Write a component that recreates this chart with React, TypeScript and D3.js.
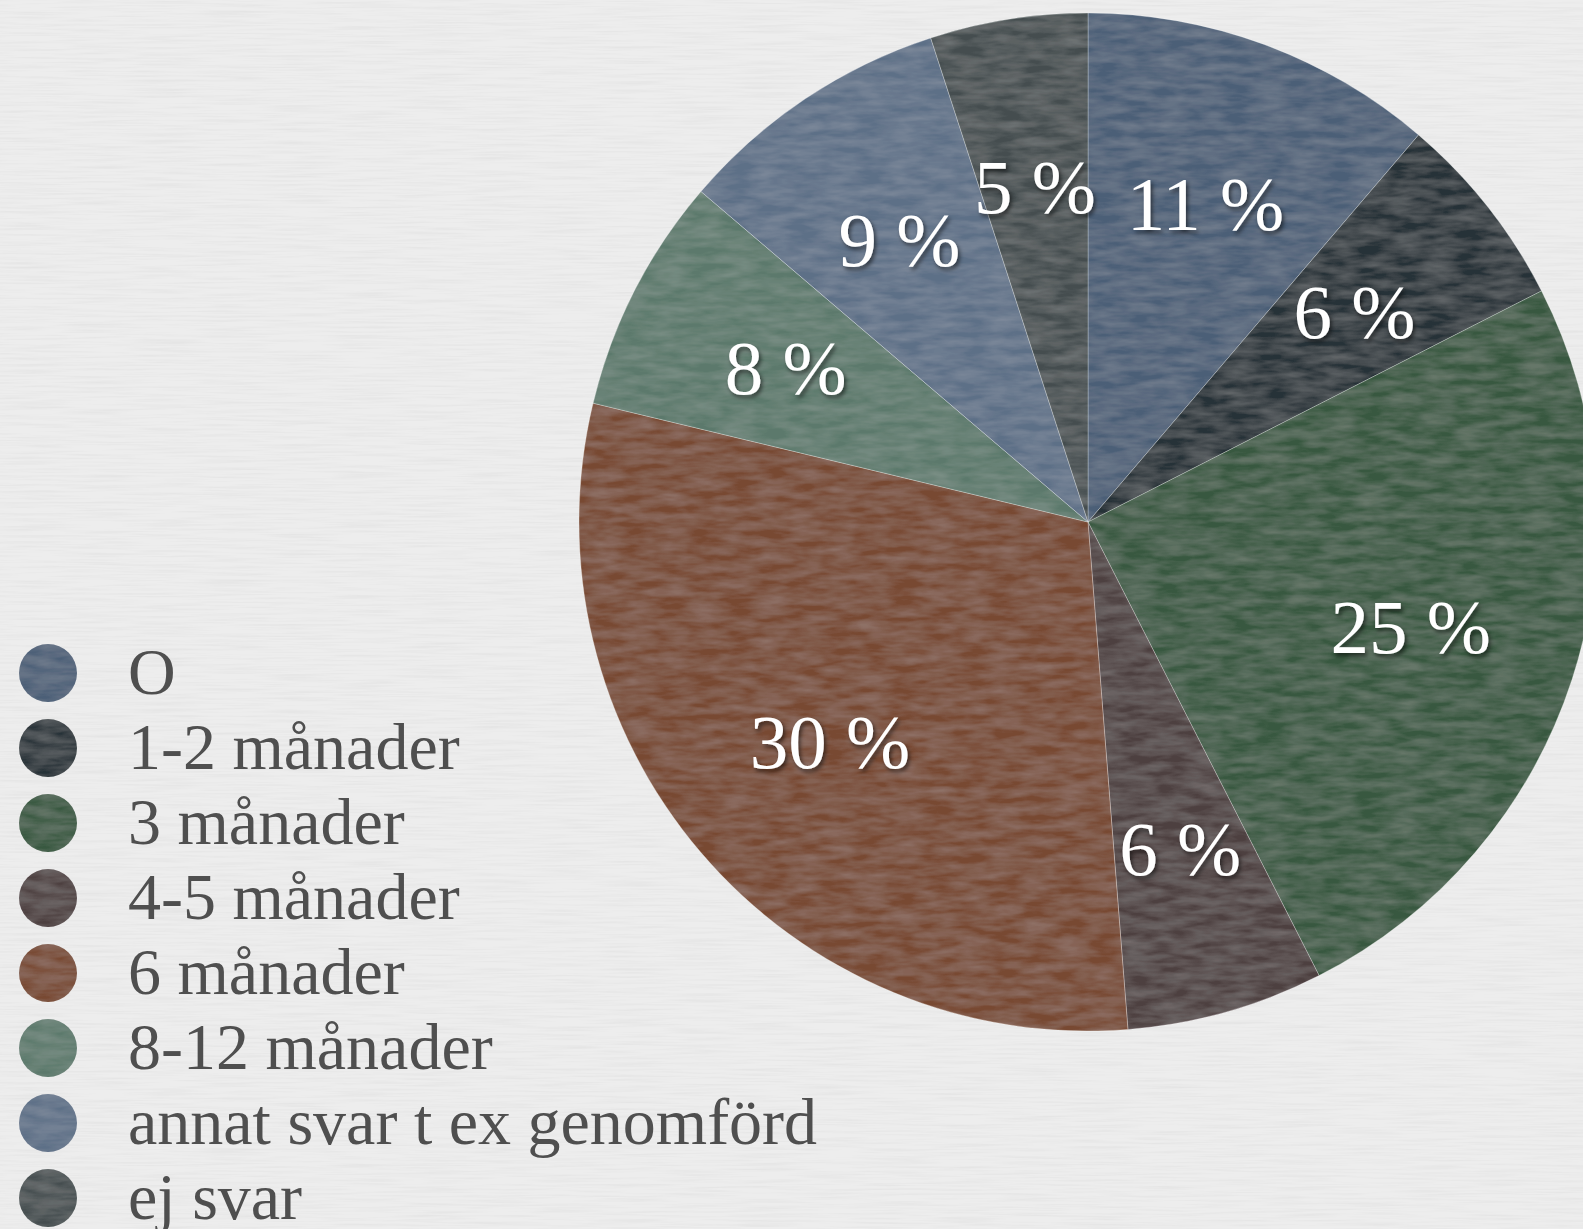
import React from "react";
import * as d3 from "d3";

const categories = [
  "O",
  "1-2 månader",
  "3 månader",
  "4-5 månader",
  "6 månader",
  "8-12 månader",
  "annat svar t ex genomförd",
  "ej svar",
];
const counts = [9, 5, 20, 5, 24, 6, 7, 4];
const sliceLabels = ["11 %", "6 %", "25 %", "6 %", "30 %", "8 %", "9 %", "5 %"];
const colors = [
  "#4b5f77",
  "#283338",
  "#38583f",
  "#4e3f41",
  "#784a33",
  "#5c796c",
  "#5d6f87",
  "#444e4f",
];

const W = 1583;
const H = 1229;

export default function App() {
  const cx = 1088;
  const cy = 522;
  const R = 509;
  const pie = d3.pie<number>().sort(null).value((d) => d);
  const arcs = pie(counts);
  const arcGen = d3.arc<d3.PieArcDatum<number>>().innerRadius(0).outerRadius(R);
  const labelArc = d3
    .arc<d3.PieArcDatum<number>>()
    .innerRadius((R * 2) / 3)
    .outerRadius((R * 2) / 3);

  const legendY = d3
    .scaleLinear()
    .domain([0, categories.length - 1])
    .range([673, 673 + 75 * (categories.length - 1)]);

  return (
    <svg
      width={W}
      height={H}
      style={{ position: "absolute", left: 0, top: 0, display: "block" }}
    >
      <defs>
        <filter id="paper" x="0" y="0" width="100%" height="100%">
          <feTurbulence type="fractalNoise" baseFrequency="0.015 0.45" numOctaves="3" seed="3" result="n" />
          <feColorMatrix
            in="n"
            type="matrix"
            values="0 0 0 0 0  0 0 0 0 0  0 0 0 0 0  0 0 0 -1.2 0.75"
            result="shade"
          />
          <feComposite in="shade" in2="SourceGraphic" operator="in" />
        </filter>
        <filter id="grain" x="0" y="0" width="100%" height="100%">
          <feTurbulence type="fractalNoise" baseFrequency="0.03 0.12" numOctaves="3" seed="7" result="n" />
          <feColorMatrix
            in="n"
            type="matrix"
            values="0 0 0 0 1  0 0 0 0 1  0 0 0 0 1  0 0 0 0.16 -0.04"
            result="light"
          />
          <feComposite in="light" in2="SourceGraphic" operator="in" result="l2" />
          <feMerge>
            <feMergeNode in="SourceGraphic" />
            <feMergeNode in="l2" />
          </feMerge>
        </filter>
        <filter id="tshadow" x="-20%" y="-20%" width="140%" height="160%">
          <feDropShadow dx="2" dy="3" stdDeviation="2" floodColor="#000" floodOpacity="0.55" />
        </filter>
      </defs>
      <rect x={0} y={0} width={W} height={H} fill="#ededed" />
      <rect x={0} y={0} width={W} height={H} fill="#000" opacity={0.05} filter="url(#paper)" />

      <g transform={`translate(${cx},${cy})`}>
        <g filter="url(#grain)">
          {arcs.map((a, i) => (
            <path
              key={i}
              d={arcGen(a) || ""}
              fill={colors[i]}
              stroke="rgba(255,255,255,0.3)"
              strokeWidth={1}
            />
          ))}
        </g>
        {arcs.map((a, i) => {
          const [x, y] = labelArc.centroid(a);
          return (
            <text
              key={i}
              x={x}
              y={y + 26}
              textAnchor="middle"
              fontFamily="'Liberation Serif', 'DejaVu Serif', serif"
              fontSize={77}
              fill="#ffffff"
              filter="url(#tshadow)"
            >
              {sliceLabels[i]}
            </text>
          );
        })}
      </g>

      <g>
        {categories.map((c, i) => (
          <g key={c} transform={`translate(0,${legendY(i)})`}>
            <circle cx={48} cy={0} r={29} fill={colors[i]} filter="url(#grain)" />
            <text
              x={128}
              y={21}
              fontFamily="'Liberation Serif', 'DejaVu Serif', serif"
              fontSize={66}
              fill="#4f4f4f"
            >
              {c}
            </text>
          </g>
        ))}
      </g>
    </svg>
  );
}
